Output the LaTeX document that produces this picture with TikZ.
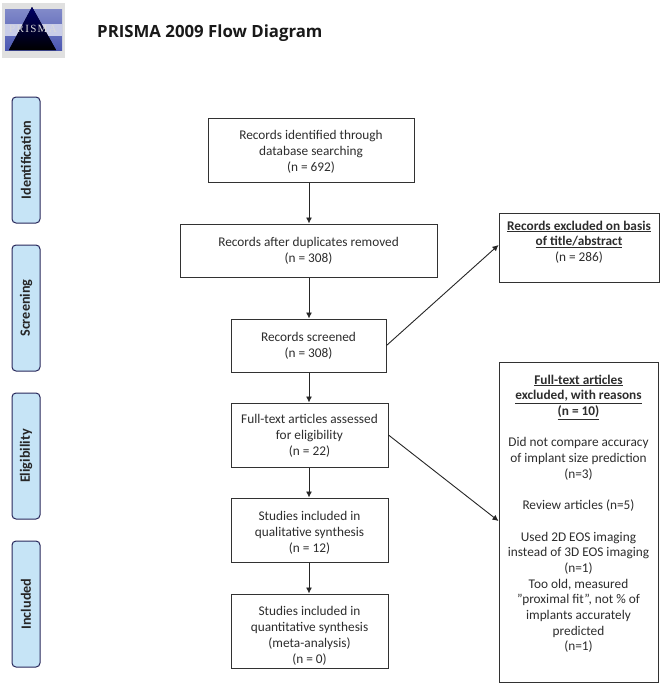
\documentclass[tikz,border=0pt]{standalone}
\usepackage{fontspec}
\setmainfont{Carlito}
\newfontfamily\titlefont{Open Sans}
\newfontfamily\logofont[LetterSpace=12]{Liberation Serif}
\usetikzlibrary{arrows.meta}
\definecolor{sidefill}{RGB}{198,228,246}
\definecolor{boxline}{RGB}{50,50,50}
\definecolor{txt}{RGB}{45,45,45}
\definecolor{logoblue}{RGB}{76,88,178}
\newcommand{\topstrut}[1]{\rule{0pt}{#1}}
\newcommand{\botstrut}[1]{\rule[-#1]{0pt}{#1}}
\tikzset{
  x=1pt,y=-1pt,
  flowbox/.style={draw=boxline,line width=1pt,fill=white,align=center,text=txt,font=\fontsize{13.3}{16}\selectfont,inner sep=0pt},
  sidebox/.style={draw=boxline!80!blue,line width=1pt,fill=sidefill,rounded corners=4pt,minimum width=126pt,minimum height=28pt,inner sep=0pt,rotate=90,font=\bfseries\fontsize{14.2}{14}\selectfont,text=black!85},
  flowarrow/.style={draw=black!85,line width=.9pt,-{Latex[length=6pt,width=6pt]}}
}
\begin{document}
\begin{tikzpicture}
\useasboundingbox (0,0) rectangle (661,686);
\fill[white] (0,0) rectangle (661,686);
% logo
\fill[black!12] (2,3) rectangle (65,58);
\fill[top color=logoblue!70!white,bottom color=logoblue] (5,9) rectangle (62,50);
\fill[white!70!logoblue] (5,24) rectangle (62,36);
\fill[top color=black!60!blue,bottom color=black] (32,7) -- (56,50) -- (9,50) -- cycle;
\node[font=\logofont\fontsize{11}{11}\selectfont,text=white!85!black,inner sep=0pt] (logotext) at (33,29) {PRISMA};
\node[anchor=west,inner sep=0pt,font=\titlefont\bfseries\fontsize{16.8}{18}\selectfont,text=black!90] (title) at (97,33) {PRISMA 2009 Flow Diagram};
% side labels
\node[sidebox] (ident) at (26,160) {Identification};
\node[sidebox] (screen) at (26,308) {Screening};
\node[sidebox] (elig) at (26,456) {Eligibility};
\node[sidebox] (incl) at (26,604) {Included};
% boxes
\node[flowbox,minimum width=206pt,minimum height=64pt] (a) at (311,150) {\topstrut{13pt}Records identified through\\database searching\\(n = 692)};
\node[flowbox,minimum width=257pt,minimum height=53pt] (b) at (308.5,250.5) {Records after duplicates removed\\(n = 308)};
\node[flowbox,minimum width=155pt,minimum height=53pt] (c) at (308.5,345.5) {Records screened\\(n = 308)};
\node[flowbox,minimum width=157pt,minimum height=64pt] (d) at (309.5,435) {\topstrut{11.5pt}Full-text articles assessed\\for eligibility\\(n = 22)};
\node[flowbox,minimum width=157pt,minimum height=64pt] (e) at (309.5,530) {\topstrut{14pt}Studies included in\\qualitative synthesis\\(n = 12)};
\node[flowbox,minimum width=157pt,minimum height=74pt] (f) at (309.5,631) {\topstrut{19pt}Studies included in\\quantitative synthesis\\(meta-analysis)\\(n = 0)};
\node[flowbox,minimum width=160pt,minimum height=69pt] (g) at (579,247.5) {\textbf{\underline{Records excluded on basis}}\\[-1pt]\textbf{\underline{of title/abstract}}\\(n = 286)\botstrut{13pt}};
\node[flowbox,minimum width=159pt,minimum height=320pt,anchor=north] (h) at (578.5,362) {};
\node[align=center,text=txt,anchor=north,font=\fontsize{13.3}{15.7}\selectfont,inner sep=0pt] (htext) at (h.north |- 0,374.5) {\textbf{\underline{Full-text articles}}\\\textbf{\underline{excluded, with reasons}}\\\textbf{\underline{(n = 10)}}\\[15.7pt]Did not compare accuracy\\of implant size prediction\\(n=3)\\[15.7pt]Review articles (n=5)\\[15.7pt]Used 2D EOS imaging\\instead of 3D EOS imaging\\(n=1)\\Too old, measured\\"proximal fit", not \% of\\implants accurately\\predicted\\(n=1)};
% connectors
\draw[flowarrow] (a.south -| 309,0) -- (b.north -| 309,0);
\draw[flowarrow] (b.south -| 309,0) -- (c.north -| 309,0);
\draw[flowarrow] (c.south -| 309,0) -- (d.north -| 309,0);
\draw[flowarrow] (d.south -| 309,0) -- (e.north -| 309,0);
\draw[flowarrow] (e.south -| 309,0) -- (f.north -| 309,0);
\draw[flowarrow] (c.east) -- (g.west |- 0,245);
\draw[flowarrow] (d.east) -- (h.west |- 0,521);
\end{tikzpicture}
\end{document}
